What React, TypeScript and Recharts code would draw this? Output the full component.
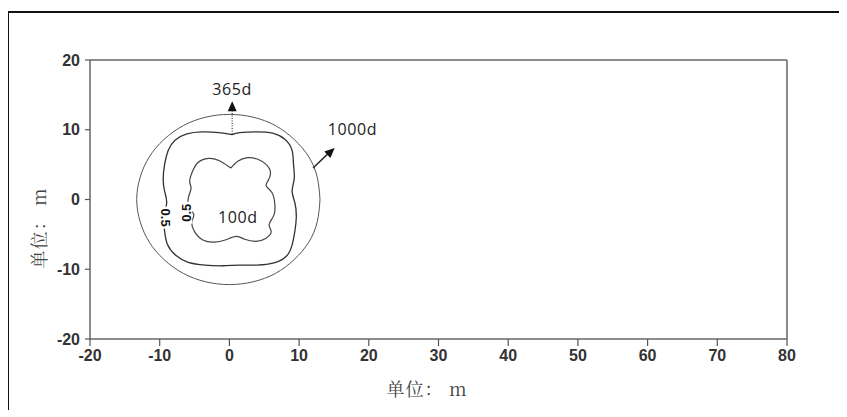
import React from "react";
import { ComposedChart, Line, XAxis, YAxis, ReferenceLine, ReferenceDot } from "recharts";

const xTicks = [-20, -10, 0, 10, 20, 30, 40, 50, 60, 70, 80];
const yTicks = [-20, -10, 0, 10, 20];

// 1000d front (thin ring)
const front1000d = [
  { x: 13.0, y: 0 }, { x: 12.6, y: 3.2 }, { x: 11.4, y: 6.1 }, { x: 9.3, y: 8.6 },
  { x: 6.6, y: 10.6 }, { x: 3.4, y: 11.8 }, { x: 0, y: 12.2 }, { x: -3.4, y: 11.8 },
  { x: -6.6, y: 10.6 }, { x: -9.4, y: 8.6 }, { x: -11.5, y: 6.1 }, { x: -12.8, y: 3.2 },
  { x: -13.3, y: 0 }, { x: -12.8, y: -3.2 }, { x: -11.5, y: -6.1 }, { x: -9.4, y: -8.6 },
  { x: -6.6, y: -10.6 }, { x: -3.4, y: -11.8 }, { x: 0, y: -12.2 }, { x: 3.4, y: -11.8 },
  { x: 6.6, y: -10.6 }, { x: 9.3, y: -8.6 }, { x: 11.4, y: -6.1 }, { x: 12.6, y: -3.2 },
  { x: 13.0, y: 0 },
];

// 365d front
const front365d = [
  { x: 0.4, y: 9.3 }, { x: 1.5, y: 9.6 }, { x: 4.0, y: 9.7 }, { x: 6.2, y: 9.5 },
  { x: 8.0, y: 8.6 }, { x: 9.0, y: 7.0 }, { x: 9.2, y: 5.0 }, { x: 9.3, y: 3.0 },
  { x: 9.0, y: 1.2 }, { x: 9.4, y: -0.5 }, { x: 9.6, y: -2.5 }, { x: 9.4, y: -4.5 },
  { x: 9.0, y: -6.5 }, { x: 8.2, y: -8.1 }, { x: 6.4, y: -9.1 }, { x: 4.0, y: -9.4 },
  { x: 1.5, y: -9.4 }, { x: -1.0, y: -9.5 }, { x: -3.5, y: -9.4 }, { x: -5.9, y: -9.0 },
  { x: -7.7, y: -8.0 }, { x: -8.9, y: -6.4 }, { x: -9.3, y: -4.5 }, { x: -9.4, y: -2.5 },
  { x: -9.0, y: -0.5 }, { x: -9.3, y: 1.2 }, { x: -9.5, y: 3.0 }, { x: -9.3, y: 5.0 },
  { x: -8.8, y: 7.0 }, { x: -7.8, y: 8.5 }, { x: -6.1, y: 9.4 }, { x: -4.0, y: 9.7 },
  { x: -1.5, y: 9.6 }, { x: 0.4, y: 9.3 },
];

// 100d front
const front100d = [
  { x: 0.2, y: 4.5 }, { x: 1.2, y: 5.5 }, { x: 2.6, y: 6.0 }, { x: 4.0, y: 5.8 },
  { x: 5.3, y: 5.0 }, { x: 5.9, y: 3.8 }, { x: 5.5, y: 2.6 }, { x: 5.3, y: 1.9 },
  { x: 6.1, y: 1.0 }, { x: 6.5, y: -0.5 }, { x: 6.4, y: -2.2 }, { x: 5.7, y: -3.6 },
  { x: 6.0, y: -4.6 }, { x: 5.2, y: -5.6 }, { x: 3.8, y: -6.0 }, { x: 2.2, y: -5.7 },
  { x: 1.0, y: -5.3 }, { x: -0.6, y: -5.8 }, { x: -2.2, y: -6.1 }, { x: -3.8, y: -5.8 },
  { x: -5.0, y: -4.6 }, { x: -5.4, y: -3.2 }, { x: -5.1, y: -2.2 }, { x: -5.7, y: -1.3 },
  { x: -5.9, y: 0.2 }, { x: -5.5, y: 1.6 }, { x: -5.7, y: 2.6 }, { x: -5.3, y: 4.0 },
  { x: -4.5, y: 5.3 }, { x: -3.0, y: 5.9 }, { x: -1.5, y: 5.6 }, { x: -0.5, y: 5.0 },
  { x: 0.2, y: 4.5 },
];

const arrow365d = [{ x: 0.4, y: 9.4 }, { x: 0.4, y: 13.2 }];
const arrow1000d = [{ x: 12.0, y: 4.5 }, { x: 14.5, y: 6.9 }];
const arrowHeads = [
  { x: 0.4, y: 14.1, angle: -90 },
  { x: 15.1, y: 7.4, angle: -43 },
];

const labels = [
  { text: "365d", x: 0.4, y: 15.0, anchor: "middle" },
  { text: "1000d", x: 14.1, y: 9.2, anchor: "start" },
  { text: "100d", x: 1.2, y: -3.4, anchor: "middle" },
];

const contourLabels = [
  { text: "0.5", x: -9.2, y: -2.6, angle: 90 },
  { text: "0.5", x: -6.2, y: -1.9, angle: -90 },
];

const tickStyle = { fontFamily: "'Liberation Sans', Arial, sans-serif", fontSize: 16, fontWeight: 700, fill: "#333" };
const axisLine = { stroke: "#666", strokeWidth: 1.5 };
const tickLine = { stroke: "#555", strokeWidth: 1.2 };
const cjk = "'Noto Serif CJK SC', 'Noto Sans CJK SC', serif";

export default function App() {
  return (
    <div
      style={{
        position: "relative",
        left: -1,
        top: 3,
        width: 836,
        height: 400,
        borderLeft: "2px solid #111",
        borderTop: "2px solid #111",
        background: "#fff",
      }}
    >
      <ComposedChart width={836} height={400} margin={{ top: 32, right: 38, bottom: 44, left: 21 }}>
        <XAxis
          xAxisId="b"
          dataKey="x"
          type="number"
          domain={[-20, 80]}
          ticks={xTicks}
          height={30}
          tickSize={7}
          tickMargin={4}
          tick={tickStyle}
          axisLine={axisLine}
          tickLine={tickLine}
        />
        <XAxis
          xAxisId="t"
          orientation="top"
          dataKey="x"
          type="number"
          domain={[-20, 80]}
          ticks={xTicks}
          height={15}
          tickSize={9}
          tick={false}
          axisLine={axisLine}
          tickLine={tickLine}
        />
        <YAxis
          yAxisId="l"
          type="number"
          domain={[-20, 20]}
          ticks={yTicks}
          width={60}
          tickSize={5}
          tickMargin={5}
          tick={tickStyle}
          axisLine={axisLine}
          tickLine={tickLine}
        />
        <YAxis
          yAxisId="r"
          orientation="right"
          type="number"
          domain={[-20, 20]}
          ticks={yTicks}
          width={20}
          tickSize={9}
          tick={false}
          axisLine={axisLine}
          tickLine={tickLine}
        />

        <Line xAxisId="b" yAxisId="l" data={front1000d} dataKey="y" type="natural" stroke="#555" strokeWidth={1} dot={false} isAnimationActive={false} />
        <Line xAxisId="b" yAxisId="l" data={front365d} dataKey="y" type="natural" stroke="#333" strokeWidth={1.3} dot={false} isAnimationActive={false} />
        <Line xAxisId="b" yAxisId="l" data={front100d} dataKey="y" type="natural" stroke="#444" strokeWidth={1.2} dot={false} isAnimationActive={false} />

        <ReferenceLine xAxisId="b" yAxisId="l" segment={arrow365d} stroke="#444" strokeWidth={1.2} strokeDasharray="1 1.5" />
        <ReferenceLine xAxisId="b" yAxisId="l" segment={arrow1000d} stroke="#222" strokeWidth={1.4} />

        {arrowHeads.map((a, i) => (
          <ReferenceDot
            key={"ah" + i}
            xAxisId="b"
            yAxisId="l"
            x={a.x}
            y={a.y}
            shape={(p: any) => (
              <polygon
                points="0,0 -10,-4.5 -10,4.5"
                fill="#111"
                transform={`translate(${p.cx},${p.cy}) rotate(${a.angle})`}
              />
            )}
          />
        ))}

        {contourLabels.map((c, i) => (
          <ReferenceDot
            key={"cl" + i}
            xAxisId="b"
            yAxisId="l"
            x={c.x}
            y={c.y}
            shape={(p: any) => (
              <g transform={`translate(${p.cx},${p.cy}) rotate(${c.angle})`}>
                <rect x={-11} y={-6} width={22} height={12} fill="#fff" />
                <text
                  x={0}
                  y={4.5}
                  textAnchor="middle"
                  fontFamily="'Liberation Sans', Arial, sans-serif"
                  fontSize={13}
                  fontWeight={700}
                  fill="#111"
                >
                  {c.text}
                </text>
              </g>
            )}
          />
        ))}

        {labels.map((l, i) => (
          <ReferenceDot
            key={"lb" + i}
            xAxisId="b"
            yAxisId="l"
            x={l.x}
            y={l.y}
            shape={(p: any) => (
              <text
                x={p.cx}
                y={p.cy}
                textAnchor={l.anchor as any}
                fontFamily="'Open Sans', sans-serif"
                fontSize={16}
                letterSpacing={0.6}
                fill="#222"
              >
                {l.text}
              </text>
            )}
          />
        ))}

        <text x={418} y={377} dy="0.35em" textAnchor="middle" fontFamily={cjk} fontSize={18} letterSpacing={1} fill="#444">
          单位： m
        </text>
        <text
          x={0}
          y={0}
          dy="0.35em"
          textAnchor="middle"
          transform="translate(31,215) rotate(-90)"
          fontFamily={cjk}
          fontSize={18}
          letterSpacing={1}
          fill="#444"
        >
          单位： m
        </text>
      </ComposedChart>
    </div>
  );
}
